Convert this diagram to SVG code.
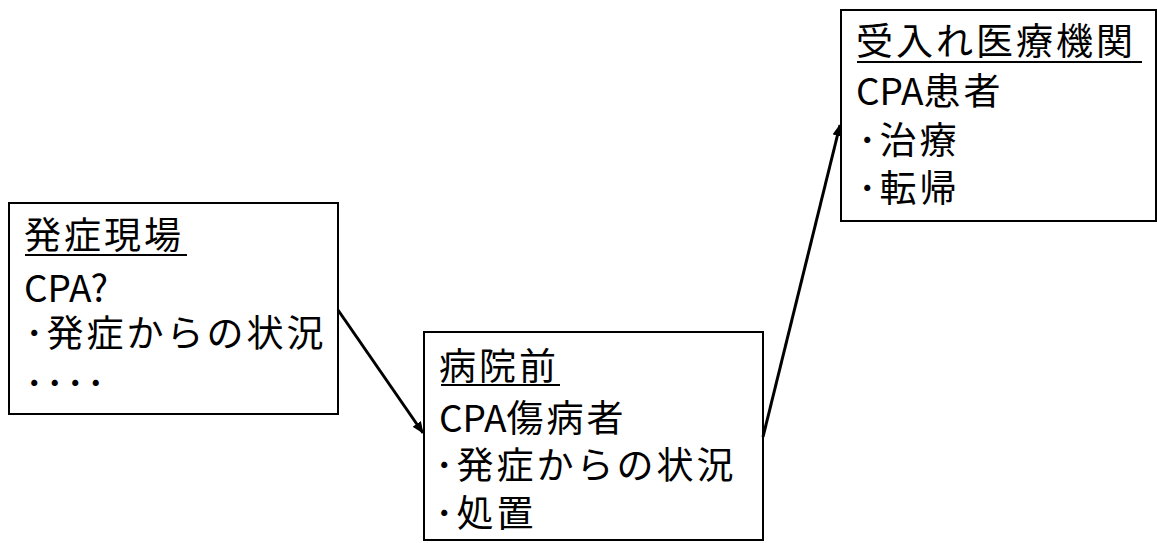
<svg xmlns="http://www.w3.org/2000/svg" width="1157" height="543" viewBox="0 0 1157 543">
  <style>
    .box { fill: #ffffff; stroke: #000000; stroke-width: 2; }
    .t { font-family: "Noto Sans CJK JP", "Liberation Sans", sans-serif; font-size: 37px; fill: #000000; }
    .cjk { letter-spacing: 3px; }
    .dots { letter-spacing: 2px; }
    .ul { stroke: #000000; stroke-width: 2; }
    .conn { stroke: #000000; stroke-width: 3; fill: none; }
  </style>
  <defs>
    <marker id="arrow" viewBox="0 0 12 10" refX="11" refY="5" markerWidth="12" markerHeight="10" markerUnits="userSpaceOnUse" orient="auto">
      <path d="M0,0 L12,5 L0,10 Z" fill="#000000"/>
    </marker>
  </defs>
  <rect width="1157" height="543" fill="#ffffff"/>

  <g id="node-scene">
    <rect class="box" x="9" y="203" width="329" height="211"/>
    <text class="t cjk" x="24" y="249">発症現場</text>
    <line class="ul" x1="25" y1="255" x2="187" y2="255"/>
    <text class="t" x="24" y="302">CPA?</text>
    <text class="t cjk" x="25" y="347">･発症からの状況</text>
    <text class="t dots" x="25" y="397">････</text>
  </g>

  <g id="node-prehospital">
    <rect class="box" x="424" y="332" width="339" height="208"/>
    <text class="t cjk" x="439" y="380">病院前</text>
    <line class="ul" x1="441" y1="385" x2="560" y2="385"/>
    <text class="t" x="439" y="432">CPA<tspan class="cjk">傷病者</tspan></text>
    <text class="t cjk" x="435" y="479">･発症からの状況</text>
    <text class="t cjk" x="435" y="527">･処置</text>
  </g>

  <g id="node-hospital">
    <rect class="box" x="841" y="10" width="315" height="211"/>
    <text class="t cjk" x="856" y="55">受入れ医療機関</text>
    <line class="ul" x1="857" y1="62" x2="1142" y2="62"/>
    <text class="t" x="856" y="105">CPA<tspan class="cjk">患者</tspan></text>
    <text class="t cjk" x="858" y="154">･治療</text>
    <text class="t cjk" x="858" y="202">･転帰</text>
  </g>

  <g id="connectors">
    <line class="conn" x1="338" y1="310" x2="423" y2="433" marker-end="url(#arrow)"/>
    <line class="conn" x1="763" y1="437" x2="840" y2="125" marker-end="url(#arrow)"/>
  </g>
</svg>
